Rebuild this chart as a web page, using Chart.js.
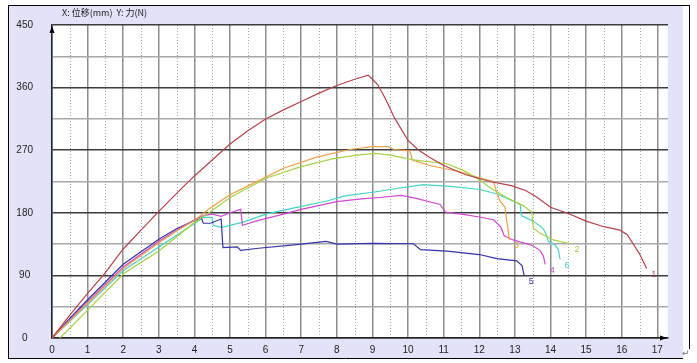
<!DOCTYPE html>
<html>
<head>
<meta charset="utf-8">
<script src="https://cdn.jsdelivr.net/npm/chart.js@4/dist/chart.umd.min.js"></script>
<style>
html,body{margin:0;padding:0;background:#ffffff;}
canvas{display:block;}
</style>
</head>
<body>
<canvas id="c" width="697" height="363"></canvas>
<script>
// ---------- data ----------
const xTickValues = [0,1,2,3,4,5,6,7,8,9,10,11,12,13,14,15,16,17];
const xMinorValues = [0.5,1.5,2.5,3.5,4.5,5.5,6.5,7.5,8.5,9.5,10.5,11.5,12.5,13.5,14.5,15.5,16.5];
const yTickValues = [0,45,90,135,180,225,270,315,360,405,450];
const yLabelValues = [0,90,180,270,360,450];
const axisCaption = 'X: 位移(mm)  Y: 力(N)';
const seriesLabels = ['1','2','3','4','5','6'];

const series1 = [[0,0],[0.5,33],[1,64],[1.5,94],[2,128],[2.5,155],[3,182],[3.5,208],[4,233],[4.5,256],[5,279],[5.5,298],[6,315],[6.5,328],[7,340],[7.5,352],[8,363],[8.5,372],[8.88,378],[9.0,372],[9.15,364],[9.3,350],[9.45,335],[9.6,318],[9.8,301],[10.0,284],[10.3,270],[10.6,260],[11.0,248],[11.6,235],[12.3,225],[12.9,219],[13.3,212],[13.6,203],[14.0,188],[14.5,179],[15.0,168],[15.5,160],[15.95,155],[16.15,149],[16.3,137],[16.5,121],[16.7,100]];
const series2 = [[0.22,0],[0.5,14],[1,40],[2,92],[3,125],[4,166],[4.44,181],[5,202],[6.03,230],[6.97,246],[7.9,258],[8.56,263],[9.07,265.5],[9.5,263],[10.15,256],[11.09,250.5],[11.55,241],[12.02,227],[12.3,216],[12.77,202],[13.24,190],[13.47,181],[13.52,158],[13.71,150.5],[14.08,141],[14.55,135.5]];
const series3 = [[0,0],[1,50],[2,100],[3,137],[3.5,154],[4,169],[4.44,187],[5,206],[5.84,227],[6.5,244],[7.43,260],[8.37,271],[9.0,275],[9.45,275],[9.6,271],[10.05,269],[10.12,256],[10.6,248],[11.46,239],[12.02,230],[12.4,225],[12.47,213],[12.58,197],[12.72,188],[12.77,169],[12.85,141]];
const series4 = [[0,0],[1,52],[2,102],[3,139],[3.5,155],[4,170],[4.25,176],[4.5,178],[4.75,175],[5.0,180],[5.3,185],[5.35,162],[5.8,169],[6.5,178],[7,185],[8,196],[8.7,200],[9.2,202],[9.8,205],[10.2,201],[10.9,192],[11.05,181],[11.5,178],[12.0,174],[12.4,170],[12.6,160],[12.7,147],[12.95,141],[13.5,133],[13.7,126],[13.8,118],[13.85,106]];
const series5 = [[0,0],[0.5,28],[1,55],[2,106],[3,142],[3.5,157],[4,169],[4.2,172],[4.25,165],[4.45,165],[4.75,171],[4.8,130],[5.2,131],[5.3,126],[5.8,129],[6.8,134],[7.7,139],[8.0,135],[9.0,136],[10.15,135.5],[10.35,127],[11.1,125],[12.0,120],[12.5,114],[13.05,111],[13.2,104],[13.26,90]];
const series6 = [[0,0],[1,48],[2,97],[3,131],[4,164.5],[4.25,173.5],[4.49,173.5],[4.53,162],[4.77,159],[5.37,166.5],[6.03,178.5],[6.97,189],[7.72,197],[8.2,204],[9.2,211],[9.49,213.5],[10.43,220.5],[11.18,218],[12.02,213.5],[12.5,207],[13.05,194.5],[13.15,192],[13.18,176],[13.52,168],[13.8,157],[13.9,146],[13.94,139],[14.13,134],[14.22,127],[14.27,113]];

// ---------- styles ----------
const seriesColors = ['#b8404c','#a4d444','#f0a048','#d048d0','#3434a4','#44d4c4'];
const allSeries = [series1, series2, series3, series4, series5, series6];
const tickFont = { family: "'Liberation Sans Narrow', 'Liberation Sans', sans-serif", size: 10 };

const framePlugin = {
  id: 'frame',
  beforeDraw(chart) {
    const ctx = chart.ctx, ca = chart.chartArea;
    const xs = chart.scales.x;
    ctx.save();
    ctx.fillStyle = '#ffffff';
    ctx.fillRect(0, 0, chart.width, chart.height);
    ctx.fillStyle = '#e2e2f8';
    ctx.fillRect(8, 5, 675, 353);
    ctx.strokeStyle = '#000000';
    ctx.lineWidth = 1;
    ctx.beginPath();
    ctx.moveTo(8.5, 5); ctx.lineTo(8.5, 358.5);
    ctx.moveTo(8, 358.5); ctx.lineTo(683, 358.5);
    ctx.moveTo(8, 5.5); ctx.lineTo(690, 5.5);
    ctx.moveTo(689.5, 5); ctx.lineTo(689.5, 349);
    ctx.stroke();
    ctx.fillStyle = '#ffffff';
    ctx.fillRect(ca.left, ca.top, ca.right - ca.left, ca.bottom - ca.top);
    // dotted half-unit lines
    ctx.strokeStyle = '#a8a8a8';
    ctx.setLineDash([1, 2]);
    ctx.beginPath();
    xMinorValues.forEach(v => {
      const px = Math.round(xs.getPixelForValue(v)) + 0.5;
      ctx.moveTo(px, ca.top); ctx.lineTo(px, ca.bottom);
    });
    ctx.stroke();
    ctx.restore();
  },
  afterDraw(chart) {
    const ctx = chart.ctx, ca = chart.chartArea;
    ctx.save();
    ctx.fillStyle = '#000000';
    // y arrow
    ctx.beginPath();
    ctx.moveTo(ca.left, ca.top + 1);
    ctx.lineTo(ca.left - 2.5, ca.top + 8);
    ctx.lineTo(ca.left + 2.5, ca.top + 8);
    ctx.closePath(); ctx.fill();
    // x arrow
    ctx.beginPath();
    ctx.moveTo(ca.right - 1, ca.bottom);
    ctx.lineTo(ca.right - 8, ca.bottom - 2.5);
    ctx.lineTo(ca.right - 8, ca.bottom + 2.5);
    ctx.closePath(); ctx.fill();
    // caption
    ctx.fillStyle = '#222222';
    ctx.font = "9px 'Noto Sans CJK SC', sans-serif";
    ctx.textBaseline = 'middle';
    ctx.textAlign = 'left';
    ctx.fillText(axisCaption, 62, 13);
    ctx.fillStyle = '#777777';
    ctx.font = "9px 'DejaVu Sans', sans-serif";
    ctx.fillText('\u21B5', 682, 354);
    ctx.restore();
  }
};

const endLabelPlugin = {
  id: 'endLabels',
  afterDatasetsDraw(chart) {
    const ctx = chart.ctx;
    ctx.save();
    ctx.font = "9px 'Liberation Sans Narrow', 'Liberation Sans', sans-serif";
    ctx.textAlign = 'center';
    ctx.textBaseline = 'middle';
    chart.data.datasets.forEach((ds, i) => {
      const meta = chart.getDatasetMeta(i);
      const last = meta.data[meta.data.length - 1];
      ctx.fillStyle = ds.borderColor;
      ctx.fillText(ds.label, last.x + 7, last.y + 6);
    });
    ctx.restore();
  }
};

new Chart(document.getElementById('c'), {
  type: 'line',
  data: {
    datasets: allSeries.map((s, i) => ({
      label: seriesLabels[i],
      data: s.map(p => ({ x: p[0], y: p[1] })),
      borderColor: seriesColors[i],
      borderWidth: 1.2,
      pointRadius: 0,
      fill: false,
      tension: 0
    }))
  },
  options: {
    responsive: false,
    animation: false,
    events: [],
    layout: { padding: { left: 0, top: 19, right: 29, bottom: 0 } },
    plugins: { legend: { display: false }, tooltip: { enabled: false }, title: { display: false } },
    scales: {
      x: {
        type: 'linear', min: 0, max: 17.3,
        afterBuildTicks: s => { s.ticks = xTickValues.map(v => ({ value: v })); },
        afterFit: s => { s.height = 22; },
        grid: { color: '#8c8c8c', lineWidth: 1.5, drawTicks: false },
        border: { color: '#222222', width: 1.5 },
        ticks: { font: tickFont, color: '#222222', padding: 6, maxRotation: 0, autoSkip: false,
                 callback: v => String(v) }
      },
      y: {
        type: 'linear', min: 0, max: 450,
        afterBuildTicks: s => { s.ticks = yTickValues.map(v => ({ value: v })); },
        afterFit: s => { s.width = 52; },
        grid: { color: c => (yLabelValues.includes(c.tick.value) ? '#3c3c3c' : '#a8a8a8'), lineWidth: 1.5, drawTicks: false },
        border: { color: '#222222', width: 1.5 },
        ticks: { font: tickFont, color: '#222222', padding: 19, crossAlign: 'center', autoSkip: false,
                 callback: v => (yLabelValues.includes(v) ? String(v) : '') }
      }
    }
  },
  plugins: [framePlugin, endLabelPlugin]
});
</script>
</body>
</html>
